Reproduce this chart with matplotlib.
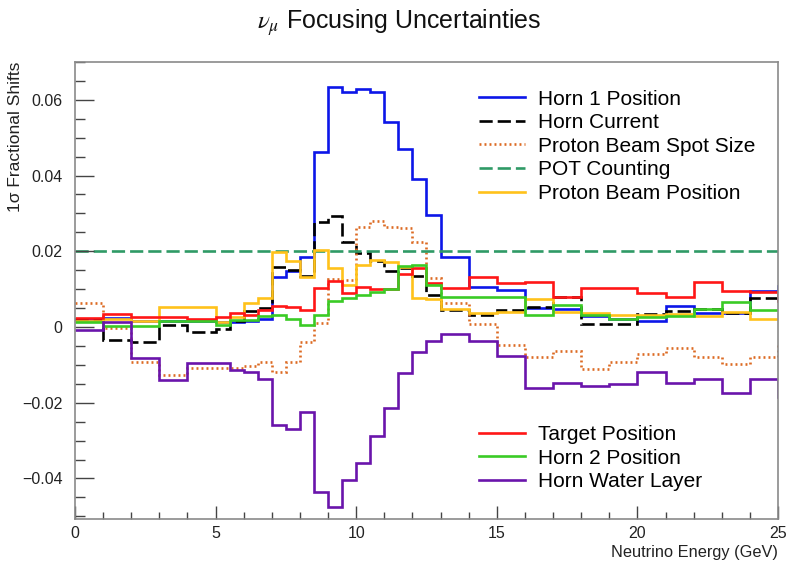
import numpy as np
import matplotlib
matplotlib.use("Agg")
import matplotlib.pyplot as plt
from matplotlib.ticker import MultipleLocator


# ============================================================
# Data: 1-sigma fractional shifts per neutrino-energy bin
# (last bin, 25-26 GeV, sits just past the plotted range)
# ============================================================

edges = [0, 1, 2, 3, 4, 5, 5.5, 6, 6.5, 7, 7.5, 8, 8.5, 9, 9.5, 10, 10.5,
         11, 11.5, 12, 12.5, 13, 14, 15, 16, 17, 18, 19, 20, 21, 22, 23,
         24, 25, 26]

horn1_position = [
    0.0020, 0.0025, 0.0017, 0.0017, 0.0017, 0.0012, 0.0012, 0.0015, 0.0020,
    0.0133, 0.0149, 0.0186, 0.0463, 0.0633, 0.0620, 0.0628, 0.0620, 0.0542,
    0.0469, 0.0391, 0.0296, 0.0186, 0.0105, 0.0098, 0.0050, 0.0047, 0.0028,
    0.0020, 0.0017, 0.0056, 0.0036, 0.0038, 0.0094, 0.0107,
]
horn_current = [
    0.0022, -0.0033, -0.0039, 0.0005, -0.0012, -0.0006, 0.0016, 0.0041, 0.0050,
    0.0159, 0.0150, 0.0135, 0.0278, 0.0292, 0.0225, 0.0195, 0.0175, 0.0148,
    0.0155, 0.0134, 0.0085, 0.0045, 0.0033, 0.0045, 0.0052, 0.0078, 0.0009,
    0.0009, 0.0034, 0.0043, 0.0047, 0.0038, 0.0077, 0.0077,
]
spot_size = [
    0.0063, -0.0003, -0.0092, -0.0127, -0.0109, -0.0108, -0.0109, -0.0102, -0.0092,
    -0.0120, -0.0092, -0.0040, 0.0010, 0.0126, 0.0125, 0.0265, 0.0280, 0.0265,
    0.0261, 0.0225, 0.0129, 0.0063, 0.0008, -0.0048, -0.0078, -0.0063, -0.0112,
    -0.0092, -0.0071, -0.0055, -0.0080, -0.0098, -0.0078, -0.0044,
]
pot_counting = [0.020] * 34
beam_position = [
    0.0015, 0.0022, 0.0015, 0.0054, 0.0054, 0.0014, 0.0027, 0.0063, 0.0076,
    0.0198, 0.0174, 0.0133, 0.0203, 0.0155, 0.0111, 0.0164, 0.0176, 0.0172,
    0.0158, 0.0076, 0.0073, 0.0048, 0.0037, 0.0040, 0.0074, 0.0039, 0.0037,
    0.0032, 0.0033, 0.0034, 0.0028, 0.0040, 0.0020, 0.0020,
]
target_position = [
    0.0025, 0.0034, 0.0026, 0.0027, 0.0021, 0.0027, 0.0038, 0.0032, 0.0045,
    0.0056, 0.0054, 0.0045, 0.0102, 0.0121, 0.0089, 0.0106, 0.0100, 0.0100,
    0.0140, 0.0155, 0.0117, 0.0102, 0.0133, 0.0115, 0.0120, 0.0078, 0.0102,
    0.0102, 0.0089, 0.0078, 0.0118, 0.0094, 0.0092, 0.0070,
]
horn2_position = [
    0.0014, 0.0002, 0.0002, 0.0016, 0.0015, 0.0005, 0.0018, 0.0018, 0.0029,
    0.0031, 0.0021, 0.0005, 0.0032, 0.0069, 0.0076, 0.0085, 0.0093, 0.0101,
    0.0162, 0.0164, 0.0110, 0.0080, 0.0078, 0.0078, 0.0032, 0.0058, 0.0032,
    0.0022, 0.0027, 0.0029, 0.0047, 0.0066, 0.0046, 0.0046,
]
water_layer = [
    -0.0007, 0.0012, -0.0083, -0.0140, -0.0096, -0.0096, -0.0114, -0.0120, -0.0136,
    -0.0258, -0.0269, -0.0224, -0.0435, -0.0475, -0.0404, -0.0360, -0.0288, -0.0215,
    -0.0121, -0.0065, -0.0036, -0.0019, -0.0036, -0.0077, -0.0162, -0.0147, -0.0155,
    -0.0151, -0.0118, -0.0149, -0.0138, -0.0175, -0.0137, -0.0185,
]


# ============================================================
# Style
# ============================================================

plt.rcParams.update({
    "font.family": ["Liberation Sans", "DejaVu Sans"],
    "mathtext.fontset": "stix",
    "lines.scale_dashes": False,
})

lw = 1.9
dashed = (0, (9.5, 3.6))
dotted = (0, (1.4, 2.2))

series = [
    (horn1_position, "Horn 1 Position", "#0c16e8", "-"),
    (horn_current, "Horn Current", "black", dashed),
    (spot_size, "Proton Beam Spot Size", "#dc6a22", dotted),
    (pot_counting, "POT Counting", "#2f9a66", dashed),
    (beam_position, "Proton Beam Position", "#ffc21a", "-"),
    (target_position, "Target Position", "#ff1616", "-"),
    (horn2_position, "Horn 2 Position", "#3acb25", "-"),
    (water_layer, "Horn Water Layer", "#6a14ab", "-"),
]

fig = plt.figure(figsize=(7.86, 5.67), dpi=100)
ax = fig.add_axes([0.0954, 0.0847, 0.8944, 0.8060])

handles = []
for values, label, color, ls in series:
    h = ax.stairs(values, edges, baseline=None, color=color, linestyle=ls,
                  linewidth=lw, label=label)
    handles.append(h)

ax.set_xlim(0, 25)
ax.set_ylim(-0.0507, 0.0700)

ax.xaxis.set_major_locator(MultipleLocator(5))
ax.xaxis.set_minor_locator(MultipleLocator(1))
ax.yaxis.set_major_locator(MultipleLocator(0.02))
ax.yaxis.set_minor_locator(MultipleLocator(0.005))
ax.yaxis.set_major_formatter(lambda v, pos: "0" if abs(v) < 1e-9 else f"{v:.2f}".replace("-", "\u2212"))

ax.tick_params(which="both", direction="in", top=False, right=False,
               color="#444444", labelsize=11.5, labelcolor="#222222")
ax.tick_params(axis="x", which="major", length=9.5, width=1.0, pad=5)
ax.tick_params(axis="x", which="minor", length=5.0, width=1.0)
ax.tick_params(axis="y", which="major", length=14, width=1.0, pad=9)
ax.tick_params(axis="y", which="minor", length=7, width=1.0)

for spine in ax.spines.values():
    spine.set_color("#8a8a8a")
    spine.set_linewidth(1.2)

leg_kw = dict(frameon=False, fontsize=15, handlelength=2.2, handletextpad=0.6,
              labelspacing=0.22, borderpad=0.0, borderaxespad=0.0,
              loc="upper left", bbox_transform=fig.transFigure)

upper = ax.legend(handles=handles[:5], bbox_to_anchor=(0.610, 0.842), **leg_kw)
ax.add_artist(upper)
ax.legend(handles=handles[5:], bbox_to_anchor=(0.610, 0.2504), **leg_kw)


# ============================================================
# Titles
# ============================================================

fig.text(0.508, 1 - 23 / 567, r"$\nu_{\mu}$ Focusing Uncertainties",
         ha="center", va="center", fontsize=18, color="#111111")
fig.text(16 / 786, 0.8907, "1\u03c3 Fractional Shifts", rotation=90,
         ha="center", va="top", fontsize=12.5, color="#222222")
fig.text(778 / 786, 1 - 552 / 567, "Neutrino Energy (GeV)",
         ha="right", va="center", fontsize=11.8, color="#222222")

fig.savefig("out.png", dpi=100)
